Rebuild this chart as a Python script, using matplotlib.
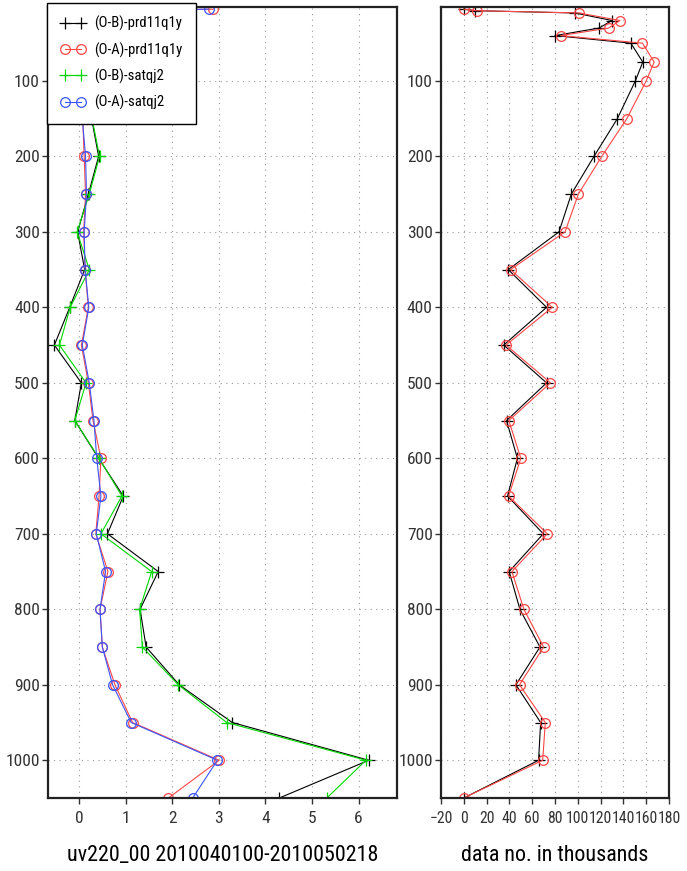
import matplotlib
matplotlib.use("Agg")
import matplotlib.pyplot as plt
from matplotlib import font_manager


# pressure levels (hPa), top to bottom
LEVELS = [5, 7, 10, 20, 30, 40, 50, 75, 100, 150, 200, 250, 300, 350, 400,
          450, 500, 550, 600, 650, 700, 750, 800, 850, 900, 950, 1000, 1050]

# left panel: rms values
OB_PRD = [1.2, 0.6, 0.5, 0.4, 0.3, 0.3, 0.3, 0.25, 0.3, 0.27, 0.42, 0.2,
          -0.03, 0.12, -0.2, -0.53, 0.05, -0.09, 0.42, 0.95, 0.61, 1.70,
          1.31, 1.44, 2.15, 3.29, 6.22, 4.3]
OA_PRD = [2.88, 0.4, 0.3, 0.25, 0.2, 0.2, 0.15, 0.15, 0.1, 0.08, 0.11, 0.14,
          0.1, 0.13, 0.2, 0.05, 0.2, 0.3, 0.47, 0.43, 0.36, 0.62,
          0.45, 0.5, 0.77, 1.15, 3.01, 1.92]
OB_SAT = [1.3, 0.6, 0.5, 0.4, 0.3, 0.3, 0.3, 0.25, 0.3, 0.28, 0.44, 0.22,
          -0.04, 0.22, -0.19, -0.42, 0.15, -0.09, 0.43, 0.92, 0.47, 1.56,
          1.3, 1.36, 2.13, 3.17, 6.16, 5.32]
OA_SAT = [2.78, 0.4, 0.3, 0.25, 0.2, 0.2, 0.15, 0.15, 0.1, 0.07, 0.14, 0.16,
          0.11, 0.13, 0.21, 0.07, 0.22, 0.32, 0.38, 0.47, 0.37, 0.57,
          0.45, 0.5, 0.72, 1.12, 2.97, 2.44]

# right panel: data counts in thousands
N_PRD = [0, 10, 97.5, 130, 118.6, 80, 146.5, 157, 150.5, 134.7, 114.2, 94.3,
         83.5, 39, 72.6, 35, 72.6, 37.5, 47, 38.4, 69.7, 39.8, 49.2, 66.8,
         45.7, 67.4, 65.6, 0]
N_SAT = [0, 11.4, 101, 137, 127, 85, 156.7, 167, 160, 143, 121, 100.5,
         88.8, 41, 77.6, 37, 76, 39.5, 50, 39.3, 73.2, 42.2, 52.7, 70,
         48.9, 71.5, 69.2, 0]

LABELS = ["(O-B)-prd11q1y", "(O-A)-prd11q1y", "(O-B)-satqj2", "(O-A)-satqj2"]


def pick_narrow_font():
    """Look for a condensed / narrow sans face, the GrADS look is tall and thin."""
    narrow = []
    for f in font_manager.fontManager.ttflist:
        stretch = str(f.stretch).lower()
        nm = f.name.lower()
        is_narrow = ("narrow" in nm or "condensed" in nm
                     or stretch in ("condensed", "semi-condensed",
                                    "extra-condensed", "ultra-condensed",
                                    "500", "600", "700", "400"))
        if is_narrow and f.style == "normal" and f.weight in (400, "normal", "regular"):
            narrow.append(f)
    for pref in ("liberation sans narrow", "dejavu sans condensed",
                 "roboto condensed", "noto sans", "open sans"):
        for f in narrow:
            if f.name.lower() == pref:
                return f.name, f.stretch
    if narrow:
        return narrow[0].name, narrow[0].stretch
    return None, None


name, stretch = pick_narrow_font()
if name:
    plt.rcParams["font.family"] = name
    plt.rcParams["font.stretch"] = stretch
    scale = 1.0
else:
    plt.rcParams["font.family"] = "DejaVu Sans"
    scale = 0.72

BLACK, RED, GREEN, BLUE = "#000000", "#ff4545", "#00d800", "#3a55ff"


def style_axes(ax):
    for sp in ax.spines.values():
        sp.set_linewidth(1.6)
        sp.set_color("#222222")
    ax.tick_params(direction="out", length=4, width=1, pad=2,
                   labelsize=12.5 * scale, colors="#333333")
    ax.tick_params(axis="x", pad=5)
    ax.grid(True, linestyle=(0, (1, 4)), color="#999999", linewidth=0.8)
    ax.set_yticks(range(100, 1001, 100))
    ax.set_ylim(1050, 2.5)


fig = plt.figure(figsize=(6.87, 8.71), dpi=100)
ax1 = fig.add_axes([48.3 / 687, 1 - 798 / 871, (396.7 - 48.3) / 687, (798 - 7.3) / 871])
ax2 = fig.add_axes([441 / 687, 1 - 798 / 871, (669 - 441) / 687, (798 - 7.3) / 871])

lw = 0.8
ax1.plot(OB_PRD, LEVELS, color=BLACK, lw=lw, marker="+", ms=9, mew=0.9,
         label=LABELS[0])
ax1.plot(OA_PRD, LEVELS, color=RED, lw=lw, marker="o", ms=7, mfc="none",
         mew=0.9, label=LABELS[1])
ax1.plot(OB_SAT, LEVELS, color=GREEN, lw=lw, marker="+", ms=9, mew=0.9,
         label=LABELS[2])
ax1.plot(OA_SAT, LEVELS, color=BLUE, lw=lw, marker="o", ms=7, mfc="none",
         mew=0.9, label=LABELS[3])
style_axes(ax1)
ax1.set_xlim(-0.66, 6.82)
ax1.set_xticks(range(0, 7))
ax1.set_xlabel("uv220_00 2010040100-2010050218", fontsize=15.8 * scale,
               labelpad=14)

leg = ax1.legend(loc="upper left", bbox_to_anchor=(47.3 / 687, 1 - 2.7 / 871),
                 bbox_transform=fig.transFigure, borderaxespad=0,
                 fancybox=False, edgecolor="black", framealpha=1,
                 fontsize=10.6 * scale, numpoints=2, handlelength=1.7,
                 handletextpad=0.6, labelspacing=0.75, borderpad=0.9)
leg.get_frame().set_linewidth(1.0)

ax2.plot(N_PRD, LEVELS, color=BLACK, lw=lw, marker="+", ms=9, mew=0.9)
ax2.plot(N_SAT, LEVELS, color=RED, lw=lw, marker="o", ms=7, mfc="none", mew=0.9)
style_axes(ax2)
ax2.set_xlim(-20, 180)
ax2.set_xticks(range(-20, 181, 20))
ax2.tick_params(axis="x", labelsize=11.3 * scale)
ax2.set_xlabel("data no. in thousands", fontsize=15.8 * scale, labelpad=14)

fig.savefig("out.png", dpi=100)
